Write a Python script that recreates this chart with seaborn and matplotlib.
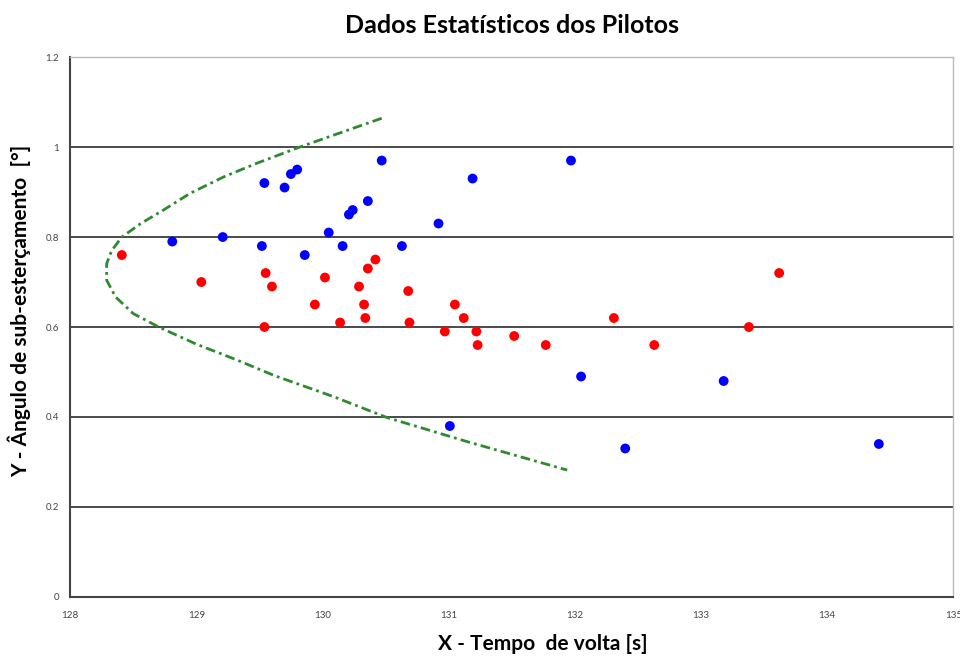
import pandas as pd
import matplotlib.pyplot as plt
import seaborn as sns

# Pilot data: lap time [s] vs understeer angle [deg]
blue_x = [128.81, 129.21, 129.54, 129.52, 129.70, 129.75, 129.80, 129.86, 130.05, 130.16,
          130.21, 130.24, 130.36, 130.47, 130.63, 130.92, 131.19, 131.01, 131.97, 132.05,
          132.40, 133.18, 134.41]
blue_y = [0.79, 0.80, 0.92, 0.78, 0.91, 0.94, 0.95, 0.76, 0.81, 0.78,
          0.85, 0.86, 0.88, 0.97, 0.78, 0.83, 0.93, 0.38, 0.97, 0.49,
          0.33, 0.48, 0.34]

red_x = [128.41, 129.04, 129.55, 129.60, 129.54, 129.94, 130.02, 130.14, 130.29, 130.33,
         130.34, 130.36, 130.42, 130.68, 130.69, 130.97, 131.05, 131.12, 131.22, 131.23,
         131.52, 131.77, 132.31, 132.63, 133.38, 133.62]
red_y = [0.76, 0.70, 0.72, 0.69, 0.60, 0.65, 0.71, 0.61, 0.69, 0.65,
         0.62, 0.73, 0.75, 0.68, 0.61, 0.59, 0.65, 0.62, 0.59, 0.56,
         0.58, 0.56, 0.62, 0.56, 0.60, 0.72]

# boundary curve, traced from top end to bottom end
curve_x = [130.47, 129.82, 129.48, 129.22, 128.95, 128.74, 128.56, 128.41, 128.33, 128.29,
           128.29, 128.36, 128.50, 128.71, 129.00, 129.32, 129.62, 130.09, 130.51, 131.15,
           131.94]
curve_y = [1.064, 1.000, 0.964, 0.934, 0.897, 0.860, 0.830, 0.800, 0.770, 0.741,
           0.704, 0.667, 0.630, 0.599, 0.562, 0.527, 0.492, 0.445, 0.399, 0.345,
           0.282]

x_ticks = [128, 129, 130, 131, 132, 133, 134, 135]
y_ticks = [0, 0.2, 0.4, 0.6, 0.8, 1.0, 1.2]
y_tick_labels = ['0', '0.2', '0.4', '0.6', '0.8', '1', '1.2']

sns.set_style('white')
plt.rcParams['font.family'] = ['Lato', 'DejaVu Sans']

points = pd.concat([
    pd.DataFrame({'tempo': blue_x, 'angulo': blue_y, 'grupo': 'azul'}),
    pd.DataFrame({'tempo': red_x, 'angulo': red_y, 'grupo': 'vermelho'}),
])
curve = pd.DataFrame({'tempo': curve_x, 'angulo': curve_y})

fig = plt.figure(figsize=(9.6, 6.56), dpi=100)
ax = fig.add_axes([0.073, 0.09, 0.920, 0.823])

# horizontal grid lines
for yv in y_ticks[1:-1]:
    ax.axhline(yv, color='#4a4a4a', lw=1.4, zorder=1)

sns.lineplot(data=curve, x='tempo', y='angulo', sort=False, estimator=None,
             color='#2f8a2f', lw=2.0, ax=ax, zorder=2)
ax.lines[-1].set_dashes([3.5, 1.5, 1, 1.5])

sns.scatterplot(data=points, x='tempo', y='angulo', hue='grupo',
                palette={'azul': '#0000ff', 'vermelho': '#ff0000'},
                s=50, edgecolor='none', legend=False, ax=ax, zorder=3)

ax.set_xlim(128, 135)
ax.set_ylim(0, 1.2)
ax.set_xticks(x_ticks)
ax.set_yticks(y_ticks)
ax.set_yticklabels(y_tick_labels)
ax.tick_params(axis='both', direction='out', length=4, width=1, color='#555555',
               labelsize=7, labelcolor='#444444', pad=4)
ax.tick_params(axis='x', pad=6)

for side in ['left', 'bottom']:
    ax.spines[side].set_color('#444444')
    ax.spines[side].set_linewidth(1.5)
for side in ['top', 'right']:
    ax.spines[side].set_color('#bbbbbb')
    ax.spines[side].set_linewidth(1)

ax.set_xlabel('X - Tempo  de volta [s]', fontsize=15, fontweight='bold', color='black')
ax.xaxis.set_label_coords(0.535, -0.068)
ax.set_ylabel('Y - Ângulo de sub-esterçamento  [°]', fontsize=15, fontweight='bold', color='black')
ax.yaxis.set_label_coords(-0.044, 0.53)
ax.set_title('Dados Estatísticos dos Pilotos', fontsize=18, fontweight='bold', pad=17, color='black')

plt.savefig('out.png', dpi=100)
plt.close()
